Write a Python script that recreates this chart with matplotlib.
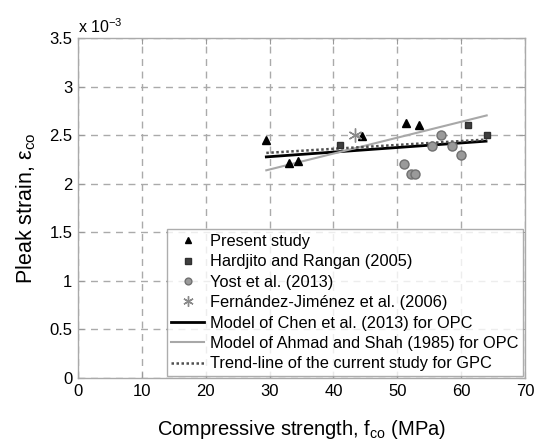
import matplotlib
matplotlib.use("Agg")
import matplotlib.pyplot as plt

plt.rcParams['font.family'] = ['Liberation Sans', 'DejaVu Sans']
plt.rcParams['mathtext.fontset'] = 'custom'
plt.rcParams['mathtext.rm'] = 'Liberation Sans'
plt.rcParams['mathtext.it'] = 'Liberation Sans:italic'

# Data (strain in units of 1e-3)
present_x = [29.4, 33.1, 34.4, 44.5, 51.4, 53.4]
present_y = [2.45, 2.21, 2.23, 2.49, 2.63, 2.60]
hardjito_x = [41.0, 61.0, 64.1]
hardjito_y = [2.40, 2.60, 2.50]
yost_x = [51.0, 52.1, 52.7, 55.5, 56.9, 58.5, 60.05]
yost_y = [2.20, 2.10, 2.10, 2.39, 2.50, 2.39, 2.30]
fernandez_x = [43.4]
fernandez_y = [2.50]
chen_x = [29.5, 63.9]
chen_y = [2.276, 2.438]
ahmad_x = [29.5, 64.0]
ahmad_y = [2.138, 2.703]
trend_x = [29.5, 64.0]
trend_y = [2.317, 2.455]

x_ticks = [0, 10, 20, 30, 40, 50, 60, 70]
y_ticks = [0, 0.5, 1, 1.5, 2, 2.5, 3, 3.5]
y_tick_labels = ['0', '0.5', '1', '1.5', '2', '2.5', '3', '3.5']

fig = plt.figure(figsize=(5.36, 4.46), dpi=100)
ax = fig.add_axes([0.1453, 0.1525, 0.8342, 0.7623])

ax.plot(present_x, present_y, linestyle='none', marker='^', color='black', ms=6,
        label='Present study', zorder=5)
ax.plot(hardjito_x, hardjito_y, linestyle='none', marker='s', color='#404040',
        mec='#303030', ms=5, label='Hardjito and Rangan (2005)', zorder=5)
ax.plot(yost_x, yost_y, linestyle='none', marker='o', color='#9a9a9a', mec='#707070',
        ms=6.5, label='Yost et al. (2013)', zorder=4)
ax.plot(fernandez_x, fernandez_y, linestyle='none', marker=(6, 2, 0), color='#8a8a8a',
        ms=10, mew=1.0, label='Fernández-Jiménez et al. (2006)', zorder=5)
ax.plot(chen_x, chen_y, color='black', lw=2.0,
        label='Model of Chen et al. (2013) for OPC', zorder=3)
ax.plot(ahmad_x, ahmad_y, color='#a8a8a8', lw=1.5,
        label='Model of Ahmad and Shah (1985) for OPC', zorder=3)
ax.plot(trend_x, trend_y, color='#505050', lw=1.8, linestyle=(0, (1, 1)),
        label='Trend-line of the current study for GPC', zorder=3)

ax.set_xlim(0, 70)
ax.set_ylim(0, 3.5)
ax.set_xticks(x_ticks)
ax.set_yticks(y_ticks)
ax.set_yticklabels(y_tick_labels)
ax.tick_params(direction='in', length=4, colors='#999999', labelcolor='black',
               labelsize=12, top=True, right=True, pad=4)
ax.grid(True, linestyle=(0, (5, 4)), color='#aaaaaa', lw=1.0)
for s in ax.spines.values():
    s.set_color('#aaaaaa')
    s.set_linewidth(1.0)

ax.set_xlabel('Compressive strength, f$_{\\rm co}$ (MPa)', fontsize=14.5, labelpad=14)
ax.set_ylabel('Pleak strain, ε$_{\\rm co}$', fontsize=15.5, labelpad=8)

ax.text(0.0, 1.005, 'x 10$^{-3}$', transform=ax.transAxes, fontsize=11.5,
        ha='left', va='bottom')

leg = ax.legend(loc='lower right', fontsize=11.8, frameon=True, fancybox=False,
                edgecolor='#999999', handlelength=2.0, handletextpad=0.35,
                borderpad=0.3, labelspacing=0.33, markerscale=0.75,
                borderaxespad=0.1)
leg.get_frame().set_linewidth(1.0)

fig.savefig('out.png', dpi=100)
